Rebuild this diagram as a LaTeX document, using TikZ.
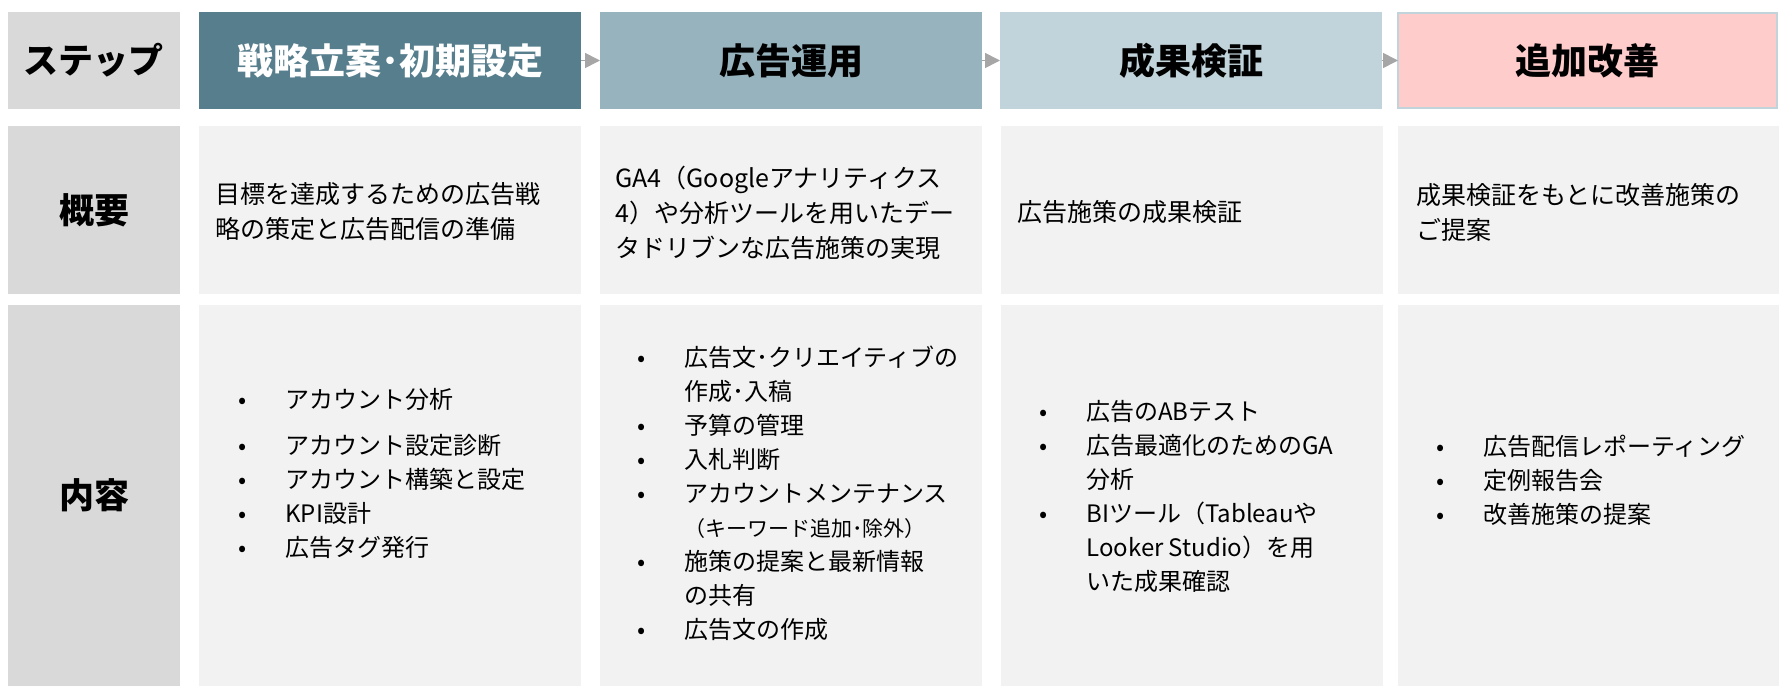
\documentclass[tikz,border=0pt]{standalone}
\usepackage{fontspec}
\setmainfont{Noto Sans CJK JP}
\usetikzlibrary{arrows.meta}
\definecolor{stepA}{HTML}{577E8D}
\definecolor{stepB}{HTML}{97B3BE}
\definecolor{stepC}{HTML}{C2D4DB}
\definecolor{stepD}{HTML}{FFCCCC}
\definecolor{labelgray}{HTML}{D9D9D9}
\definecolor{cellgray}{HTML}{F2F2F2}
\definecolor{arrowgray}{HTML}{A6A6A6}
\newcommand\bitem{\makebox[23.5pt][l]{•}}
\newcommand\bcont{\hspace*{23.5pt}}
\begin{document}
\begin{tikzpicture}[x=0.5pt,y=-0.5pt,
  cellbox/.style={inner sep=0pt, outer sep=0pt, anchor=north west},
  headfont/.style={font=\fontsize{18}{20}\selectfont\bfseries},
  labelbox/.style={cellbox, fill=labelgray, minimum width=86pt, font=\fontsize{17.5}{20}\selectfont\bfseries, text=black},
  stepbox/.style={cellbox, minimum width=191pt, minimum height=48.5pt, headfont},
  rowtwo/.style={cellbox, fill=cellgray, minimum width=191pt, minimum height=84pt},
  rowthree/.style={cellbox, fill=cellgray, minimum width=191pt, minimum height=190.5pt},
  bodytext/.style={inner sep=0pt, anchor=west, align=left, font=\fontsize{12.5}{17.5}\selectfont},
  listtext/.style={inner sep=0pt, anchor=west, align=left, font=\fontsize{12}{17}\selectfont},
  flowarrow/.style={draw=arrowgray, line width=0.8pt, -{Triangle[length=7.5pt,width=7.5pt,fill=arrowgray]}}
]
\useasboundingbox (0,0) rectangle (1788,696);

% left labels
\node[labelbox, minimum height=48.5pt] (lstep) at (8,12) {ステップ};
\node[labelbox, minimum height=84pt] (lsum) at (8,126) {概要};
\node[labelbox, minimum height=190.5pt] (lcont) at (8,305) {内容};

% step headers
\node[stepbox, fill=stepA, text=white] (s1) at (199,12) {戦略立案･初期設定};
\node[stepbox, fill=stepB] (s2) at (600,12) {広告運用};
\node[stepbox, fill=stepC] (s3) at (1000,12) {成果検証};
\node[stepbox, fill=stepD, draw=stepC, line width=1pt, minimum width=189.5pt, minimum height=47.5pt] (s4) at (1398,13) {追加改善};

\draw[flowarrow] (s1.east) -- (s2.west);
\draw[flowarrow] (s2.east) -- (s3.west);
\draw[flowarrow] (s3.east) -- (s4.west);

% row 2 boxes
\node[rowtwo] (o1) at (199,126) {};
\node[rowtwo] (o2) at (600,126) {};
\node[rowtwo] (o3) at (1001,126) {};
\node[rowtwo, minimum width=190.5pt] (o4) at (1398,126) {};

\node[bodytext] (ot1) at (215,212) {目標を達成するための広告戦\\略の策定と広告配信の準備};
\node[bodytext] (ot2) at (615,213) {GA4（Googleアナリティクス\\4）や分析ツールを用いたデー\\タドリブンな広告施策の実現};
\node[bodytext] (ot3) at (1017,212) {広告施策の成果検証};
\node[bodytext] (ot4) at (1416,212) {成果検証をもとに改善施策の\\ご提案};

% row 3 boxes
\node[rowthree] (c1) at (199,305) {};
\node[rowthree] (c2) at (600,305) {};
\node[rowthree] (c3) at (1001,305) {};
\node[rowthree, minimum width=190.5pt] (c4) at (1398,305) {};

\node[listtext] (ct1) at (238,473) {\bitem アカウント分析\\[6pt]\bitem アカウント設定診断\\\bitem アカウント構築と設定\\\bitem KPI設計\\\bitem 広告タグ発行};
\node[listtext] (ct2) at (637,493) {\bitem 広告文･クリエイティブの\\\bcont 作成･入稿\\\bitem 予算の管理\\\bitem 入札判断\\\bitem アカウントメンテナンス\\\bcont {\fontsize{10.5}{17}\selectfont （キーワード追加･除外）}\\\bitem 施策の提案と最新情報\\\bcont の共有\\\bitem 広告文の作成};
\node[listtext] (ct3) at (1039,496) {\bitem 広告のABテスト\\\bitem 広告最適化のためのGA\\\bcont 分析\\\bitem BIツール（Tableauや\\\bcont Looker Studio）を用\\\bcont いた成果確認};
\node[listtext] (ct4) at (1436,480) {\bitem 広告配信レポーティング\\\bitem 定例報告会\\\bitem 改善施策の提案};
\end{tikzpicture}
\end{document}
